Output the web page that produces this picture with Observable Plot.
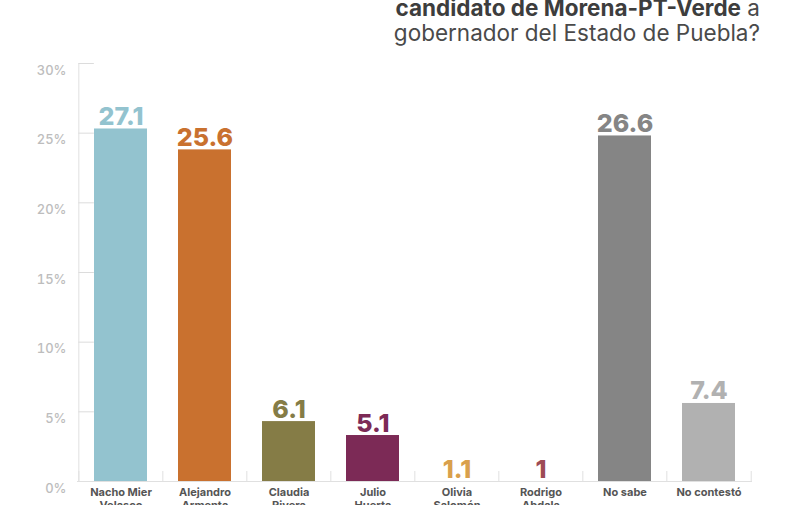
<!DOCTYPE html>
<html>
<head>
<meta charset="utf-8">
<script src="https://cdn.jsdelivr.net/npm/d3@7"></script>
<script src="https://cdn.jsdelivr.net/npm/@observablehq/plot@0.6"></script>
<style>
  html, body { margin: 0; padding: 0; background: #fff; }
  #wrap { position: relative; width: 792px; height: 505px; overflow: hidden; }
  #title { position: absolute; right: 32px; top: -5px; text-align: right; white-space: nowrap;
    font-family: Inter, "Open Sans", sans-serif; font-size: 22.5px; line-height: 25px; color: #4a4a4a; }
  #title b { font-weight: 700; color: #3d3d3d; }
</style>
</head>
<body>
<div id="wrap">
  <div id="title"><b>candidato de Morena-PT-Verde</b> a<br>gobernador del Estado de Puebla?</div>
  <div id="chart"></div>
</div>
<script>
// Data
const categories = ["Nacho Mier\nVelasco", "Alejandro\nArmenta", "Claudia\nRivera", "Julio\nHuerta",
                    "Olivia\nSalomón", "Rodrigo\nAbdala", "No sabe", "No contestó"];
const values = [27.1, 25.6, 6.1, 5.1, 1.1, 1, 26.6, 7.4];
const colors = ["#93c3cf", "#c9712f", "#857c46", "#7c2a56", "#d9a04c", "#9d4b55", "#858585", "#b1b1b1"];
const yTicks = [0, 5, 10, 15, 20, 25, 30];
// In the reference, bars sit below their labelled value by a constant amount
const barOffset = 1.8;

const data = categories.map((c, i) => ({cat: c, value: values[i], color: colors[i],
  drawn: Math.max(0, values[i] - barOffset)}));

const W = 792, H = 505, mL = 77, mR = 40, mT = 63, mB = 24;
const paddingInner = 0.37, paddingOuter = 0.185;
const step = (W - mL - mR) / categories.length;
const pxPerUnit = (H - mT - mB) / 30;

const chart = Plot.plot({
  width: W, height: H,
  marginLeft: mL, marginRight: mR, marginTop: mT, marginBottom: mB,
  style: {fontFamily: "Inter, 'Open Sans', sans-serif", background: "#fff"},
  x: {domain: categories, paddingInner, paddingOuter, label: null},
  y: {domain: [0, 30], label: null},
  marks: [
    // y axis line
    Plot.ruleX([categories[0]], {x: d => d, dx: -step / 2, y1: 0, y2: 30, stroke: "#e0e0e0", strokeWidth: 1}),
    // y ticks from the axis to the first bar
    Plot.tickY(yTicks.slice(1), {y: d => d, x: () => categories[0], dx: -(1 - paddingInner) * step,
      stroke: "#dcdcdc", strokeWidth: 1, insetLeft: (1 - paddingInner) * step - paddingOuter * step}),
    Plot.axisY(yTicks, {tickSize: 0, tickPadding: 11, dy: 7, tickFormat: d => d + "%",
      fill: "#bdbdbd", fontSize: 13, fontWeight: 500}),
    // baseline
    Plot.ruleY([0], {stroke: "#e0e0e0", strokeWidth: 1.2}),
    // category boundary ticks
    Plot.ruleX(categories, {x: d => d, dx: -step / 2, y1: 0, y2: 10 / pxPerUnit, stroke: "#e0e0e0"}),
    Plot.ruleX([categories[categories.length - 1]], {x: d => d, dx: step / 2, y1: 0, y2: 10 / pxPerUnit, stroke: "#e0e0e0"}),
    // bars
    Plot.barY(data, {x: "cat", y: "drawn", fill: "color"}),
    // value labels
    Plot.text(data, {x: "cat", y: "drawn", text: d => String(d.value), fill: "color",
      dy: -12, fontSize: 25, fontWeight: 800, letterSpacing: "-1px"}),
    // x labels
    Plot.axisX({tickSize: 0, tickPadding: 6, fontSize: 11, fontWeight: 700, fill: "#555",
      lineHeight: 1.15, textAnchor: "middle"})
  ]
});
document.getElementById("chart").appendChild(chart);
</script>
</body>
</html>
